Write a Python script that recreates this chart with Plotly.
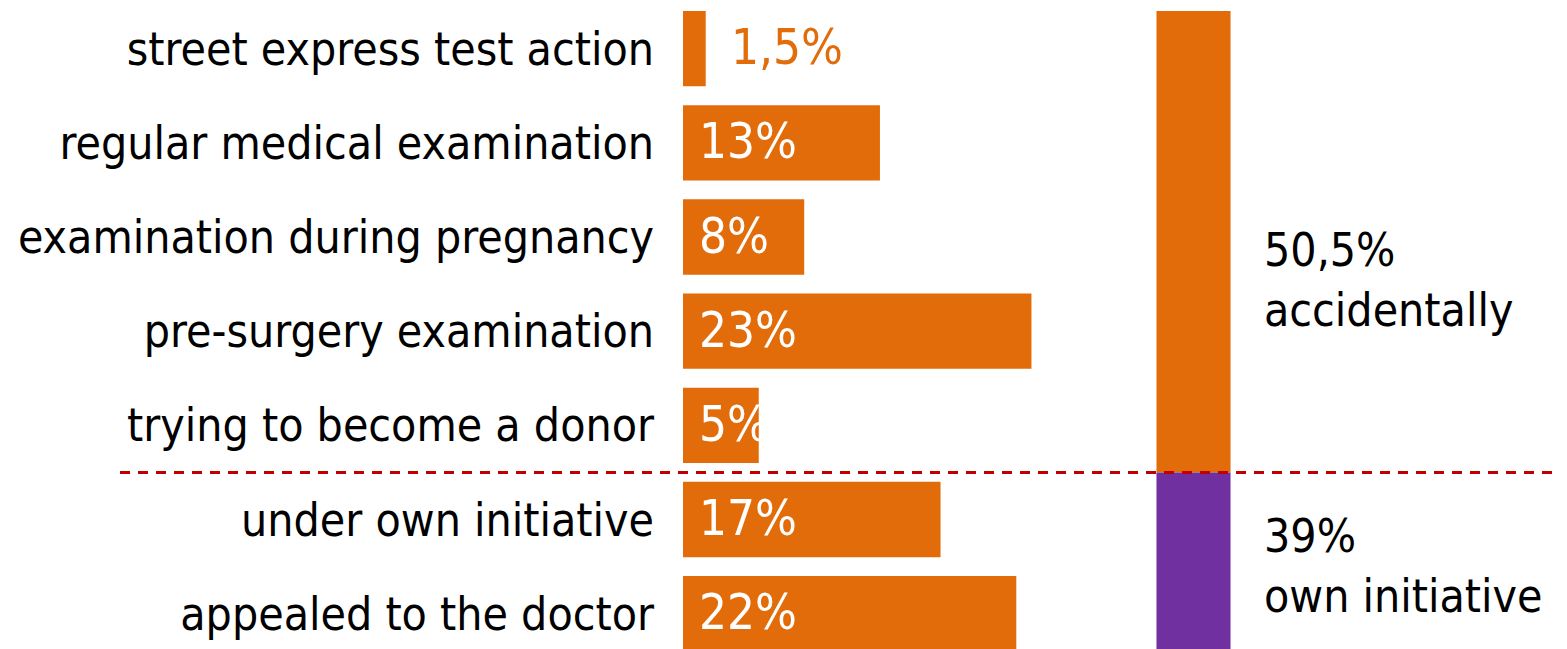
import plotly.graph_objects as go

# ---- data ----
categories = [
    "street express test action",
    "regular medical examination",
    "examination during pregnancy",
    "pre-surgery examination",
    "trying to become a donor",
    "under own initiative",
    "appealed to the doctor",
]
values = [1.5, 13, 8, 23, 5, 17, 22]
value_labels = ["1,5%", "13%", "8%", "23%", "5%", "17%", "22%"]
group_names = ["accidentally", "own initiative"]
group_totals = ["50,5%", "39%"]
group_members = [[0, 1, 2, 3, 4], [5, 6]]

# ---- style ----
W, H = 1567, 649
OFF = 8  # page body margin offset
ORANGE = "#E36C0A"
PURPLE = "#7030A0"
RED = "#C00000"
FONT = "DejaVu Sans Condensed, DejaVu Sans, sans-serif"
FS = 46
FS_VAL = 49
group_colors = [ORANGE, PURPLE]
group_label_yshift = [-43, 1]

def px(x):
    return (x - OFF) / W

def py(y):
    return 1 - (y - OFF) / H

fig = go.Figure()

ypos = list(range(len(categories)))
fig.add_trace(go.Bar(
    x=values, y=ypos, orientation="h", width=0.8,
    marker=dict(color=ORANGE, line=dict(width=0)),
    xaxis="x", yaxis="y", showlegend=False, hoverinfo="skip",
))

# right stacked column spanning the category groups
for gi, members in enumerate(group_members):
    start = min(members) - 0.5
    span = max(members) - min(members) + 1
    fig.add_trace(go.Bar(
        x=["total"], y=[span], base=[start], width=0.396,
        marker=dict(color=group_colors[gi], line=dict(width=0)),
        xaxis="x2", yaxis="y", showlegend=False, hoverinfo="skip",
    ))

annotations = []
for i, (v, lab) in enumerate(zip(values, value_labels)):
    inside = v >= 3
    annotations.append(dict(
        x=0 if inside else v, y=i, xref="x", yref="y",
        text=lab, showarrow=False, xanchor="left", yanchor="middle",
        xshift=14 if inside else 23, yshift=1,
        font=dict(family=FONT, size=FS_VAL, color="white" if inside else ORANGE),
    ))

for gi, members in enumerate(group_members):
    mid = (min(members) - 0.5 + max(members) + 0.5) / 2
    annotations.append(dict(
        x=px(1262), y=mid, xref="paper", yref="y",
        text=f"{group_totals[gi]}<br>{group_names[gi]}",
        showarrow=False, xanchor="left", yanchor="middle", align="left",
        yshift=group_label_yshift[gi],
        font=dict(family=FONT, size=FS, color="black"),
    ))

boundary = max(group_members[0]) + 0.5
shapes = [dict(
    type="line", xref="paper", yref="y", x0=px(120), x1=1, y0=boundary, y1=boundary,
    line=dict(color=RED, width=3, dash="10px,8px"), layer="above",
)]

fig.update_layout(
    width=W, height=H,
    margin=dict(l=0, r=0, t=0, b=0),
    paper_bgcolor="white", plot_bgcolor="white",
    font=dict(family=FONT, size=FS, color="black"),
    xaxis=dict(domain=[px(683), px(1100)], range=[0, 417 / 15.15], visible=False,
               anchor="y", fixedrange=True),
    xaxis2=dict(domain=[px(1100), px(1287)], type="category", visible=False,
                anchor="y", fixedrange=True),
    yaxis=dict(domain=[py(649), py(11)], range=[6.375, -0.4], tickmode="array",
               tickvals=ypos, ticktext=categories, showgrid=False, zeroline=False,
               showline=False, ticks="", ticklabelstandoff=28, automargin=False,
               tickfont=dict(family=FONT, size=FS, color="black"), anchor="x"),
    annotations=annotations, shapes=shapes,
    barmode="overlay",
)

fig.write_html("out.html")
